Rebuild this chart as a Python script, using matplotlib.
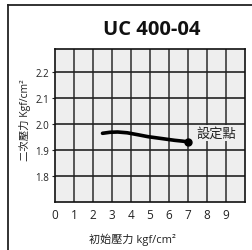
import matplotlib
matplotlib.use('Agg')
import matplotlib.pyplot as plt
from matplotlib.lines import Line2D

plt.rcParams['font.family'] = ['Open Sans', 'Noto Sans CJK TC', 'DejaVu Sans']

# data
inlet = [2.5, 2.9, 3.3, 3.8, 4.4, 4.9, 5.3, 5.8, 6.3, 6.7, 7.0]
outlet = [1.964, 1.968, 1.969, 1.966, 1.958, 1.951, 1.947, 1.942, 1.937, 1.934, 1.931]
set_x = 7.0
set_y = 1.931

x_ticks = [0, 1, 2, 3, 4, 5, 6, 7, 8, 9]
y_ticks = [1.8, 1.9, 2.0, 2.1, 2.2]

W, H = 252, 251
fig = plt.figure(figsize=(W / 100, H / 100), dpi=100)
fig.patch.set_facecolor('white')

# outer frame (only top / left visible in the crop)
fig.add_artist(Line2D([8 / W, 8 / W], [-0.1, 1 - 6 / H], transform=fig.transFigure,
                      color='#222222', lw=1.3))
fig.add_artist(Line2D([8 / W, 1.1], [1 - 6 / H, 1 - 6 / H], transform=fig.transFigure,
                      color='#222222', lw=1.3))

ax = fig.add_axes([55 / W, (H - 203) / H, 190 / W, 153 / H])
ax.set_facecolor('#eeeeee')
ax.set_xlim(0, 10)
ax.set_ylim(1.7, 2.288)

for x in range(1, 10):
    ax.axvline(x, color='#555555', lw=1.4, zorder=1)
for y in [1.8, 1.9, 2.0, 2.1, 2.2]:
    ax.axhline(y, color='#222222', lw=1.2, zorder=1)

ax.plot(inlet, outlet, color='black', lw=2.6, solid_capstyle='round', zorder=3)
ax.plot([set_x], [set_y], 'o', color='black', ms=5, zorder=4)
ax.text(8.5, 1.966, '設定點', ha='center', va='center', fontsize=9.5,
        family=['Noto Sans CJK TC'], color='#222222', zorder=5,
        bbox=dict(facecolor='#eeeeee', edgecolor='none', pad=1.0))

ax.set_xticks(x_ticks)
ax.set_yticks(y_ticks)
ax.set_xticklabels([str(v) for v in x_ticks])
ax.set_yticklabels(['%.1f' % v for v in y_ticks])
ax.tick_params(axis='x', length=0, labelsize=8.5, pad=4, colors='#222222')
ax.tick_params(axis='y', length=2, labelsize=7, pad=2, colors='#222222')
for s in ax.spines.values():
    s.set_color('#111111')
    s.set_linewidth(1.2)

fig.text(152 / W, 1 - 30 / H, 'UC 400-04', ha='center', va='center',
         fontsize=14.5, fontweight='bold', color='#111111')
fig.text(132 / W, 1 - 240 / H, '初始壓力 kgf/cm²', ha='center', va='center',
         fontsize=8, color='#222222')
fig.text(25 / W, 1 - 120 / H, '二次壓力 Kgf/cm²', ha='center', va='center',
         fontsize=7.5, rotation=90, color='#222222')

fig.savefig('out.png', dpi=100)
